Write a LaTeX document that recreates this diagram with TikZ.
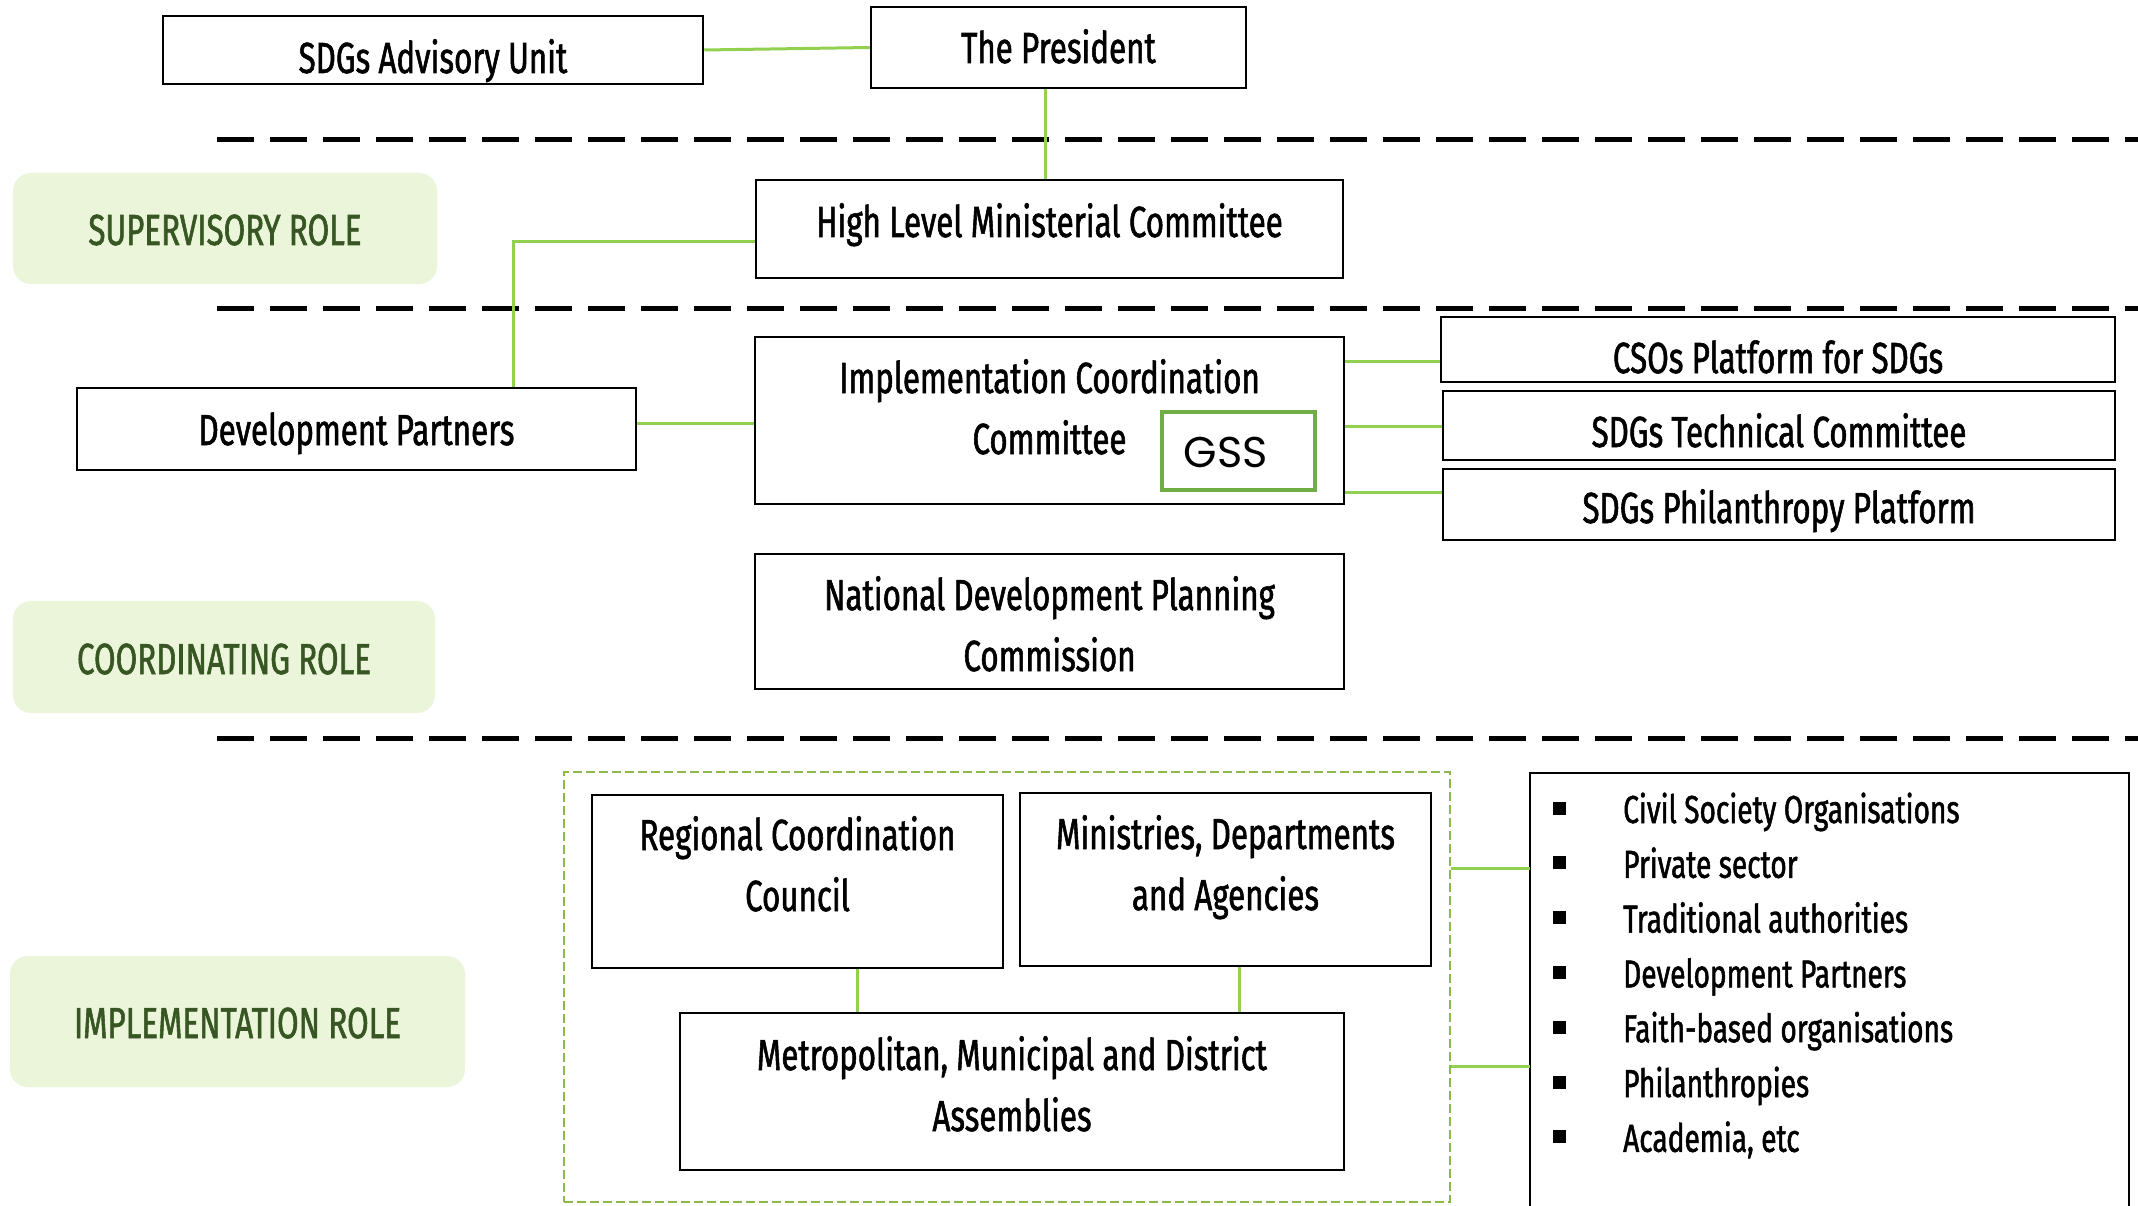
\documentclass[tikz,border=0pt]{standalone}
\usepackage{fontspec}
\setmainfont{Fira Sans}[FakeStretch=0.72,FakeBold=1.3]
\newfontfamily\gssfont{Poppins}
\usetikzlibrary{calc}
\definecolor{lg}{HTML}{92D050}
\definecolor{gssg}{HTML}{70AD47}
\definecolor{rolefill}{HTML}{EBF5DA}
\definecolor{roletxt}{HTML}{375623}
\definecolor{grpg}{HTML}{8DB84A}
\newcommand\mainsz{\fontsize{43.5pt}{61pt}\selectfont}
\newcommand\listsz{\fontsize{39pt}{54.8pt}\selectfont}
\newcommand\twoline[2]{\begin{tabular}[t]{@{}c@{}}#1\\#2\end{tabular}}
\newcommand\bul{\makebox[70pt][l]{\rule[8.5pt]{13pt}{13pt}}}
\begin{document}
\begin{tikzpicture}[x=1pt,y=-1pt,
  box/.style={draw=black, line width=2.5pt, inner sep=0pt, font=\mainsz},
  tup/.style={text height=#1, text depth=0pt},
  tdn/.style={text height=0pt, text depth=#1},
  role/.style={fill=rolefill, draw=none, rounded corners=18pt, text=roletxt,
    font=\mainsz, inner sep=0pt},
  link/.style={draw=lg, line width=3pt},
  sepline/.style={draw=black, line width=5pt, dash pattern=on 37pt off 16pt}]
\useasboundingbox (0,0) rectangle (2138,1206);
\fill[white] (0,0) rectangle (2138,1206);

% separators
\draw[sepline] (217,140) -- (2138,140);
\draw[sepline] (217,308) -- (2138,308);
\draw[sepline] (217,738) -- (2138,738);

% role labels
\node[role, minimum width=424pt, minimum height=111pt, tup=33pt] (sup) at (225,228.5) {SUPERVISORY ROLE};
\node[role, minimum width=422pt, minimum height=112pt, tup=34pt] (coord) at (224,657) {COORDINATING ROLE};
\node[role, minimum width=455pt, minimum height=131pt, tup=33pt] (impl) at (237.5,1021.5) {IMPLEMENTATION ROLE};

% boxes
\node[box, minimum width=540pt, minimum height=68pt, tup=46pt] (adv) at (433,50) {SDGs Advisory Unit};
\node[box, minimum width=375pt, minimum height=81pt, tup=31pt] (pres) at (1058.5,47.5) {The President};
\node[box, minimum width=587pt, minimum height=98pt, tup=16pt] (hlmc) at (1049.5,229) {High Level Ministerial Committee};
\node[box, minimum width=559pt, minimum height=82pt, tup=32pt] (dp) at (356.5,429) {Development Partners};
\node[box, minimum width=589pt, minimum height=167pt, tdn=55pt] (icc) at (1049.5,420.5) {\twoline{Implementation Coordination}{Committee}};
\node[draw=gssg, line width=3.5pt, inner sep=0pt, minimum width=153pt, minimum height=78pt,
  font=\gssfont\fontsize{43pt}{50pt}\selectfont, tup=32pt] (gss) at (1238.5,451) {GSS\hspace*{26pt}};
\node[box, minimum width=589pt, minimum height=135pt, tdn=23pt] (ndpc) at (1049.5,621.5) {\twoline{National Development Planning}{Commission}};
\node[box, minimum width=674pt, minimum height=65pt, tup=47pt] (cso) at (1778,349.5) {CSOs Platform for SDGs};
\node[box, minimum width=672pt, minimum height=69pt, tup=43pt] (tech) at (1779,425.5) {SDGs Technical Committee};
\node[box, minimum width=672pt, minimum height=71pt, tup=37pt] (phil) at (1779,504.5) {SDGs Philanthropy Platform};

% implementation group
\node[draw=grpg, line width=1.5pt, dash pattern=on 9pt off 4pt, inner sep=0pt,
  minimum width=886pt, minimum height=430pt] (grp) at (1007,987) {};
\node[box, minimum width=411pt, minimum height=173pt, tdn=63pt] (rcc) at (797.5,881.5) {\twoline{Regional Coordination}{Council}};
\node[box, minimum width=411pt, minimum height=173pt, tdn=61pt] (mda) at (1225.5,879.5) {\twoline{Ministries, Departments}{and Agencies}};
\node[box, minimum width=664pt, minimum height=157pt, tdn=43pt] (mmda) at (1012,1091.5) {\twoline{Metropolitan, Municipal and District}{Assemblies}};

% list
\node[inner sep=0pt, minimum width=599pt, minimum height=433pt] (lst) at (1829.5,989.5) {};
\draw[line width=2pt] (lst.south west) -- (lst.north west) -- (lst.north east) -- (lst.south east);
\node[anchor=base west, inner sep=0pt, font=\listsz] (items) at (1553,823) {\begin{tabular}[t]{@{}l@{}}
\bul Civil Society Organisations\\
\bul Private sector\\
\bul Traditional authorities\\
\bul Development Partners\\
\bul Faith-based organisations\\
\bul Philanthropies\\
\bul Academia, etc
\end{tabular}};

% connectors
\draw[link] (adv.east) -- (pres.west);
\coordinate (kp) at (1045,0);
\draw[link] (kp |- pres.south) -- (kp |- hlmc.north);
\coordinate (k1) at (513,242);
\draw[link] (k1 -| hlmc.west) -- (k1) -- (k1 |- dp.north);
\coordinate (k2) at (0,423);
\draw[link] (k2 -| icc.west) -- (k2 -| dp.east);
\coordinate (k3) at (0,361);
\draw[link] (k3 -| icc.east) -- (k3 -| cso.west);
\coordinate (k4) at (0,426);
\draw[link] (k4 -| icc.east) -- (k4 -| tech.west);
\coordinate (k5) at (0,492);
\draw[link] (k5 -| icc.east) -- (k5 -| phil.west);
\coordinate (kr) at (857,0);
\draw[link] (kr |- rcc.south) -- (kr |- mmda.north);
\coordinate (km) at (1239,0);
\draw[link] (km |- mda.south) -- (km |- mmda.north);
\coordinate (g1) at (0,868);
\draw[link] (g1 -| grp.east) -- (g1 -| lst.west);
\coordinate (g2) at (0,1066);
\draw[link] (g2 -| grp.east) -- (g2 -| lst.west);
\end{tikzpicture}
\end{document}
